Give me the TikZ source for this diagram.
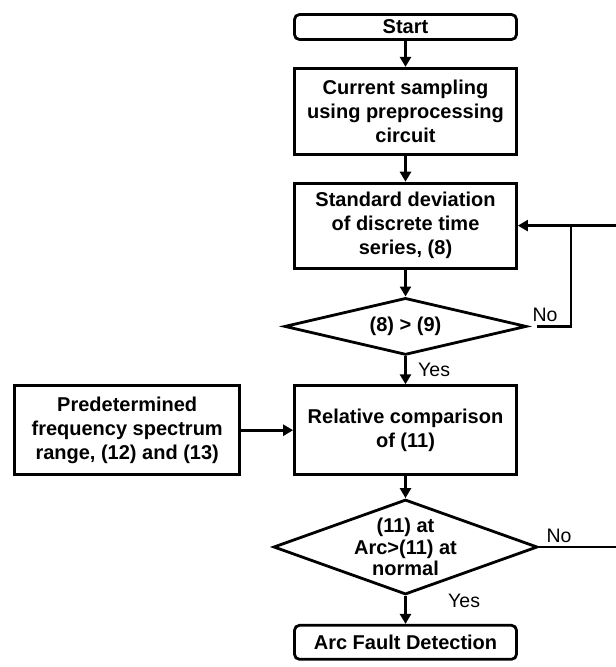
\documentclass[tikz,border=0pt]{standalone}
\usepackage{fontspec}
\setmainfont{Liberation Sans}
\usetikzlibrary{arrows.meta,positioning,shapes.geometric}

\begin{document}
\begin{tikzpicture}[x=1pt,y=1pt,->,>={Triangle[length=10pt,width=11pt]},line width=2.8pt,node distance=26pt,
box/.style={draw,rectangle,minimum width=222pt,minimum height=86pt,align=center,inner sep=2pt,font=\fontsize{20}{24}\selectfont\bfseries},
term/.style={box,rounded corners=5pt,minimum height=25pt},
test/.style={draw,diamond,aspect=2.72,inner xsep=0pt,inner ysep=-4pt,align=center,font=\fontsize{20}{21.5}\selectfont\bfseries},
lbl/.style={font=\fontsize{19.5}{22}\selectfont}]
\useasboundingbox (0,0) rectangle (616,-667);
\node[term] (start) at (405.5,-27) {Start};
\node[box,below=of start] (samp) {Current sampling\\using preprocessing\\circuit};
\node[box,below=of samp,minimum height=85pt] (stdev) {Standard deviation\\of discrete time\\series, (8)};
\node[test,below=27pt of stdev,minimum width=242pt,minimum height=57pt] (cmp1) {(8) > (9)};
\node[box,below=28pt of cmp1,minimum height=89pt] (relc) {Relative comparison\\of (11)};
\node[box,left=52pt of relc,minimum width=225pt,minimum height=89pt] (range) {Predetermined\\frequency spectrum\\range, (12) and (13)};
\node[test,below=22pt of relc,minimum width=264pt,minimum height=95pt] (cmp2) {(11) at\\Arc>(11) at\\normal};
\node[term,below=28pt of cmp2,minimum height=34pt] (arc) {Arc Fault Detection};
% loop coordinates at the right border
\coordinate (loop) at (571,0 |- stdev);
\coordinate (outA) at (616,0 |- stdev);
\coordinate (outB) at (616,0 |- cmp2);

\draw (start) -- (samp);
\draw (samp) -- (stdev);
\draw (stdev) -- (cmp1);
\draw (cmp1) -- node[lbl,right=8pt] (yes1) {Yes} (relc);
\draw (range) -- (relc);
\draw (relc) -- (cmp2);
\draw (cmp2) -- (arc);
\node[lbl,anchor=west] (yes2) at ([xshift=38pt,yshift=-5pt]cmp2.south) {Yes};
\draw[shorten <=9pt] (cmp1.east) -| (loop) -- (stdev.east);
\draw[-] (outA) -- (loop);
\node[lbl,above right] (no1) at (cmp1.east) {No};
\draw[-] (cmp2.east) -- (outB);
\node[lbl,above right,xshift=3pt] (no2) at (cmp2.east) {No};
\end{tikzpicture}
\end{document}
